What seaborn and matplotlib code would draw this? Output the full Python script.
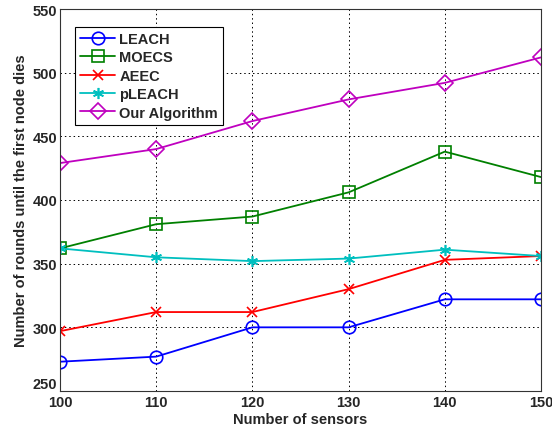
import pandas as pd
import seaborn as sns
import matplotlib
matplotlib.use('Agg')
from matplotlib import pyplot as plt

sensors = [100, 110, 120, 130, 140, 150]
leach = [273, 277, 300, 300, 322, 322]
moecs = [362, 381, 387, 406, 438, 418]
aeec = [297, 312, 312, 330, 353, 356]
pleach = [362, 355, 352, 354, 361, 356]
ours = [429, 440, 462, 479, 492, 512]

series = ['LEACH', 'MOECS', 'AEEC', 'pLEACH', 'Our Algorithm']
values = [leach, moecs, aeec, pleach, ours]
colors = ['#0000ff', '#008000', '#ff0000', '#00bfbf', '#bf00bf']
markers = ['o', 's', 'x', (6, 2, 0), 'D']
msizes = [9, 9, 7, 8, 8.5]

rows = []
for name, vals in zip(series, values):
    for x, y in zip(sensors, vals):
        rows.append({'sensors': x, 'rounds': y, 'method': name})
df = pd.DataFrame(rows)

sns.set_style('white')
plt.rcParams['font.family'] = ['Liberation Sans', 'DejaVu Sans']
plt.rcParams['font.weight'] = 'bold'

fig = plt.figure(figsize=(5.52, 4.35), dpi=100)
ax = fig.add_axes([60 / 552, 1 - 392 / 435, 481 / 552, 382 / 435])

for name, col, mk, ms in zip(series, colors, markers, msizes):
    sub = df[df['method'] == name]
    sns.lineplot(data=sub, x='sensors', y='rounds', ax=ax, color=col, label=name,
                 marker=mk, markersize=ms, markerfacecolor='none', markeredgecolor=col,
                 markeredgewidth=1.2, linewidth=1.3)

ax.set_xlim(100, 150)
ax.set_ylim(250, 550)
ax.set_xticks(sensors)
ax.set_yticks(range(250, 551, 50))
ax.grid(True, color='black', linestyle=(0, (1.5, 3)), linewidth=0.7)
ax.tick_params(direction='in', labelsize=10.5, length=4, color='black', pad=2)
ax.tick_params(axis='x', pad=3)
for lab in ax.get_xticklabels() + ax.get_yticklabels():
    lab.set_fontweight('bold')
# matlab-style: bottom y label sits just above the corner
ax.get_yticklabels()[0].set_va('bottom')
for s in ax.spines.values():
    s.set_color('#333333')
    s.set_linewidth(0.8)
ax.set_xlabel('Number of sensors', fontsize=10.5, fontweight='bold', labelpad=2)
ax.set_ylabel('Number of rounds until the first node dies', fontsize=10.5, fontweight='bold', labelpad=3)

leg = ax.legend(loc='upper left', bbox_to_anchor=(0.031, 0.953), borderaxespad=0, fancybox=False,
                framealpha=1, edgecolor='black', prop={'weight': 'bold', 'size': 10.5},
                handlelength=2.4, borderpad=0.35, labelspacing=0.3, handletextpad=0.3)
leg.get_frame().set_linewidth(0.8)

fig.savefig('out.png', dpi=100)
